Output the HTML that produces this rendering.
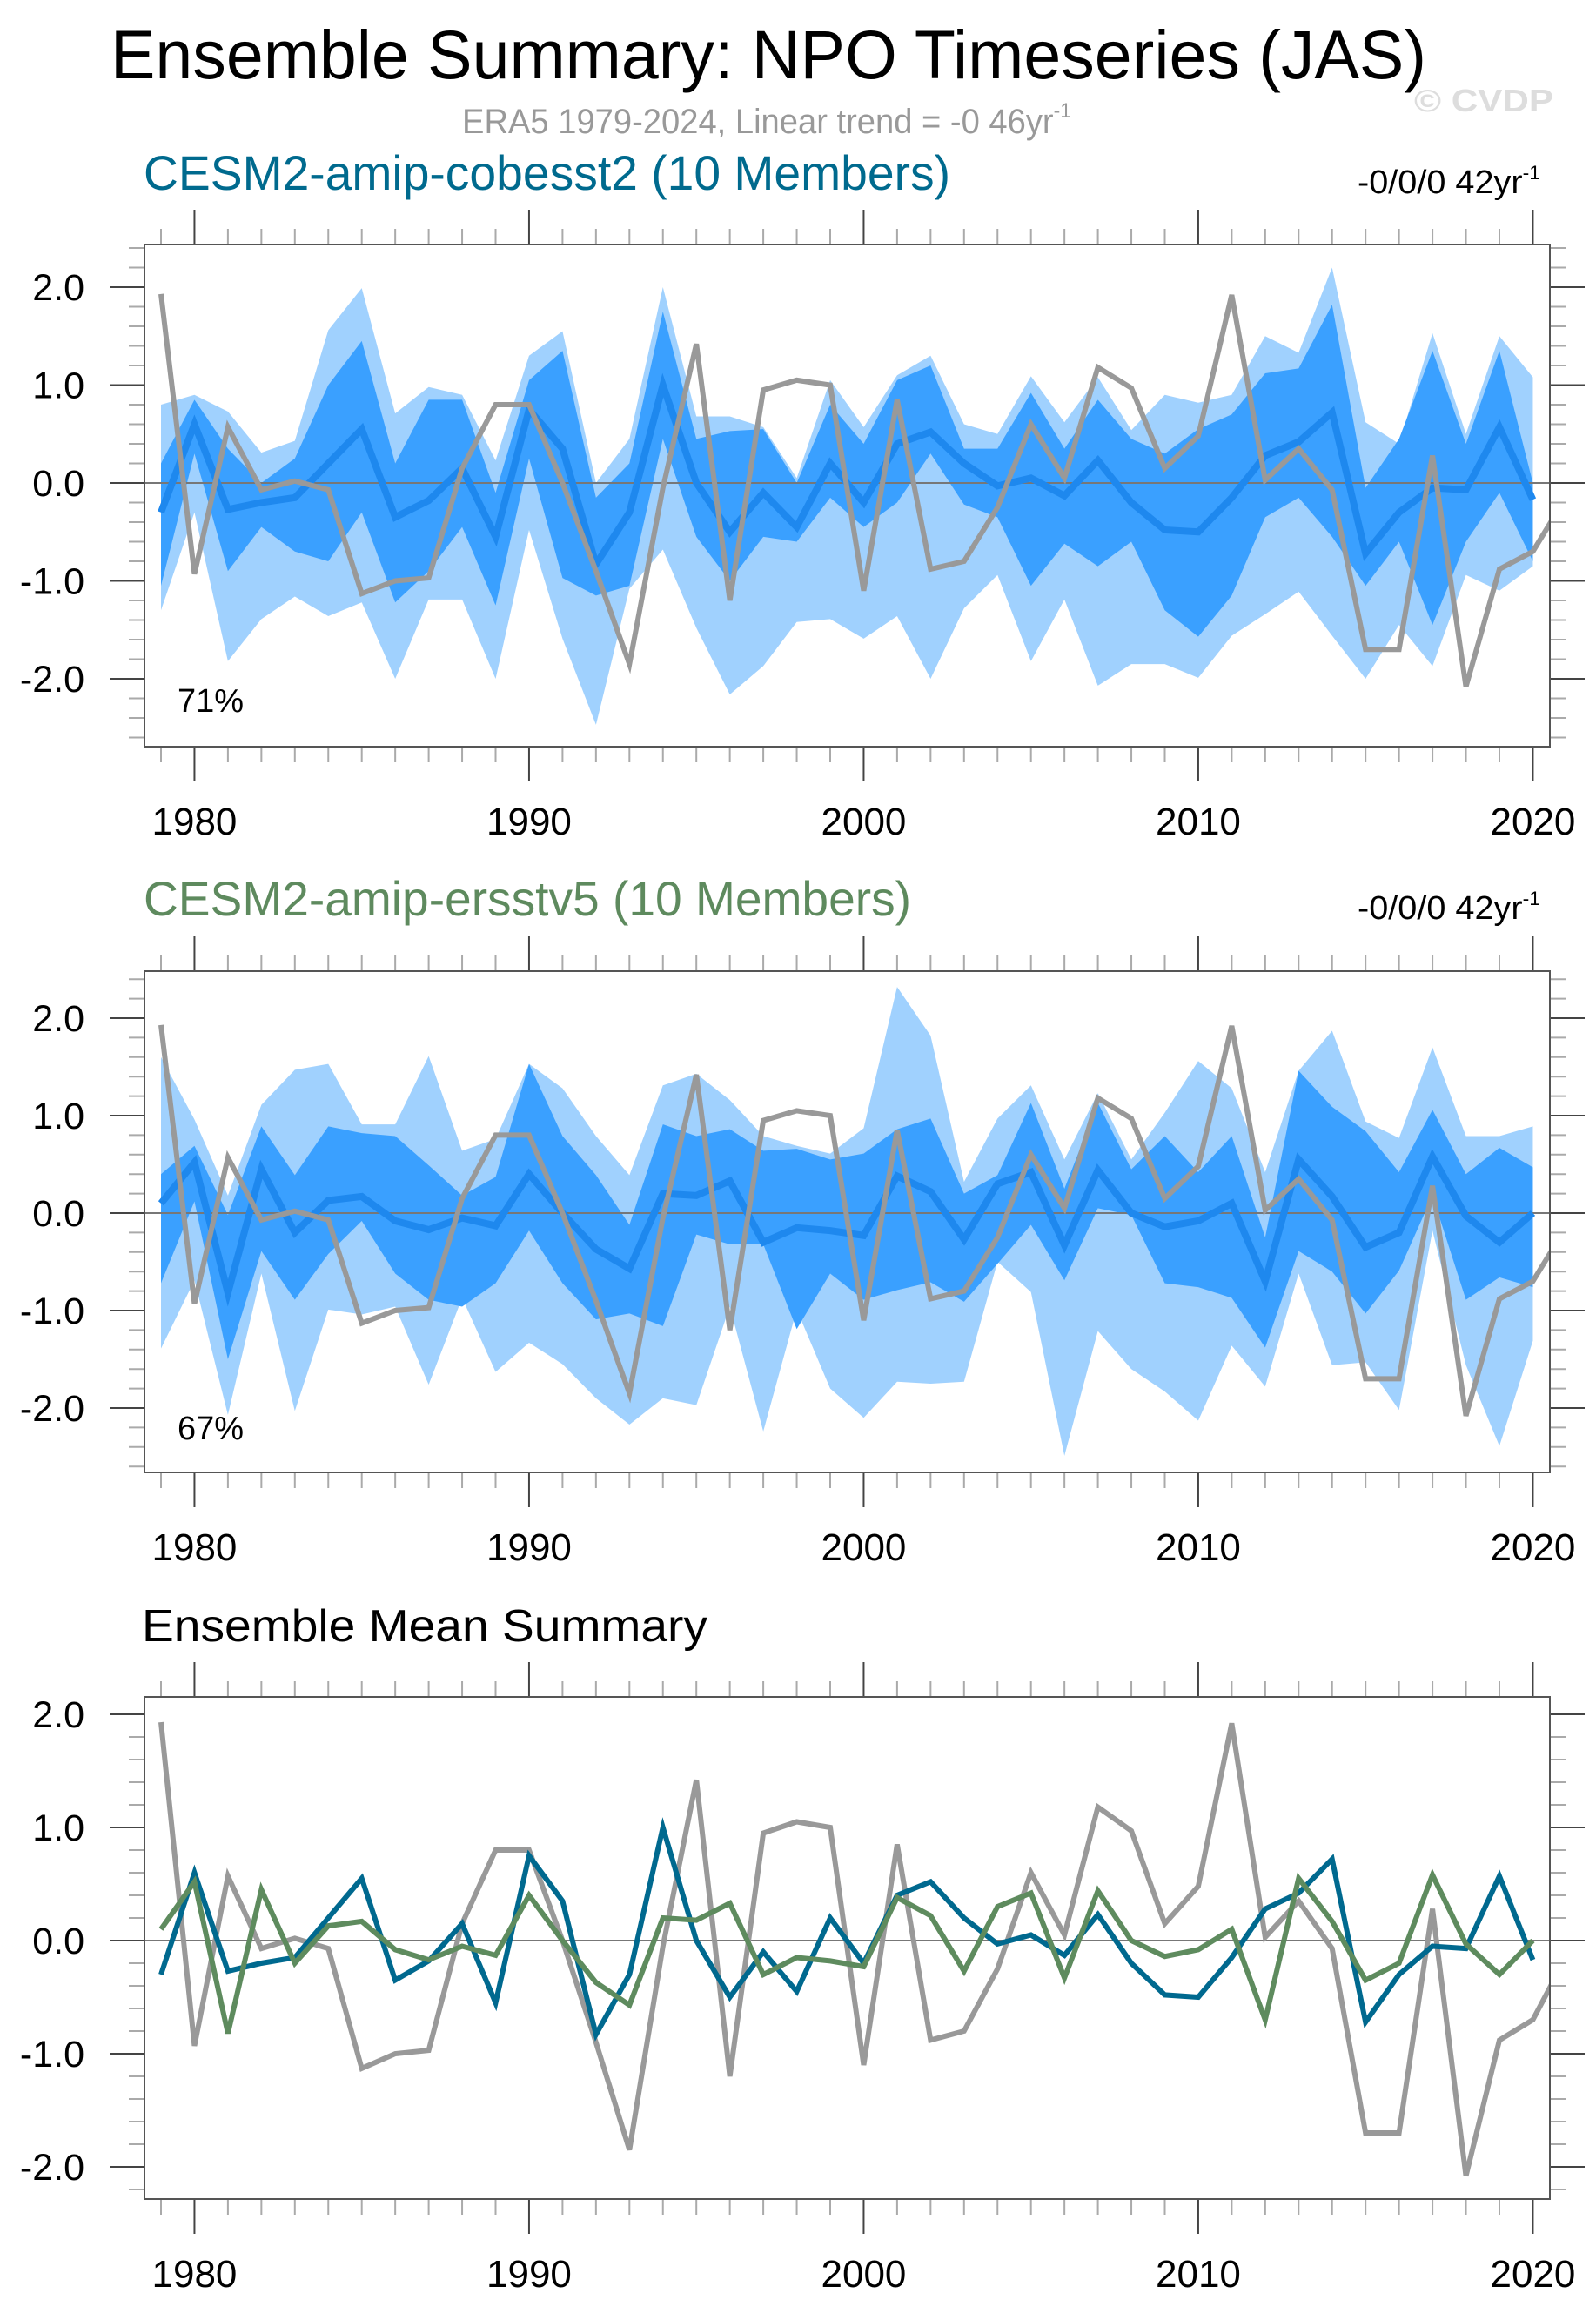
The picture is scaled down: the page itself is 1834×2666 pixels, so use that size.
<!DOCTYPE html>
<html><head><meta charset="utf-8"><style>
html,body{margin:0;padding:0;background:#fff;}
svg{display:block;font-family:"Liberation Sans",sans-serif;}
</style></head><body>
<svg id="chart" width="1834" height="2666" viewBox="0 0 1834 2666" xmlns="http://www.w3.org/2000/svg">
<text x="127" y="90" font-size="79" fill="#000" textLength="1512" lengthAdjust="spacingAndGlyphs">Ensemble Summary: NPO Timeseries (JAS)</text>
<text x="531" y="153" font-size="40" fill="#999" textLength="700" lengthAdjust="spacingAndGlyphs">ERA5 1979-2024, Linear trend = -0 46yr<tspan font-size="24" dy="-18">-1</tspan></text>
<text x="1625" y="128" font-size="36" font-weight="bold" fill="#ddd" textLength="160" lengthAdjust="spacingAndGlyphs">© CVDP</text>
<text x="165" y="218" font-size="56" fill="#006a8e" textLength="927" lengthAdjust="spacingAndGlyphs">CESM2-amip-cobesst2 (10 Members)</text>
<text x="1560" y="222" font-size="38" fill="#000" textLength="210" lengthAdjust="spacingAndGlyphs">-0/0/0 42yr<tspan font-size="22" dy="-16">-1</tspan></text>
<text x="165" y="1052" font-size="56" fill="#5e8a5e" textLength="882" lengthAdjust="spacingAndGlyphs">CESM2-amip-ersstv5 (10 Members)</text>
<text x="1560" y="1056" font-size="38" fill="#000" textLength="210" lengthAdjust="spacingAndGlyphs">-0/0/0 42yr<tspan font-size="22" dy="-16">-1</tspan></text>
<text x="163" y="1886" font-size="52" fill="#000" textLength="650" lengthAdjust="spacingAndGlyphs">Ensemble Mean Summary</text>
</svg>
<script>
const years = [1979,1980,1981,1982,1983,1984,1985,1986,1987,1988,1989,1990,1991,1992,1993,1994,1995,1996,1997,1998,1999,2000,2001,2002,2003,2004,2005,2006,2007,2008,2009,2010,2011,2012,2013,2014,2015,2016,2017,2018,2019,2020];
const era5Years = [1979,1980,1981,1982,1983,1984,1985,1986,1987,1988,1989,1990,1991,1992,1993,1994,1995,1996,1997,1998,1999,2000,2001,2002,2003,2004,2005,2006,2007,2008,2009,2010,2011,2012,2013,2014,2015,2016,2017,2018,2019,2020,2021];
const era5 = [1.93,-0.93,0.57,-0.07,0.02,-0.07,-1.13,-1.0,-0.97,0.15,0.8,0.8,0.0,-0.9,-1.85,-0.05,1.42,-1.2,0.95,1.05,1.0,-1.1,0.85,-0.88,-0.8,-0.25,0.6,0.05,1.18,0.97,0.15,0.48,1.92,0.03,0.35,-0.07,-1.7,-1.7,0.28,-2.08,-0.88,-0.7,-0.14];
const cobMean = [-0.3,0.6,-0.27,-0.2,-0.15,0.2,0.55,-0.35,-0.18,0.15,-0.55,0.75,0.35,-0.83,-0.3,1.0,0.0,-0.5,-0.1,-0.45,0.2,-0.2,0.4,0.52,0.2,-0.03,0.05,-0.13,0.23,-0.2,-0.48,-0.5,-0.15,0.28,0.42,0.72,-0.72,-0.3,-0.05,-0.07,0.57,-0.17];
const cobMax = [0.8,0.9,0.73,0.31,0.43,1.56,1.99,0.71,0.98,0.9,0.23,1.3,1.55,0.0,0.45,2.0,0.68,0.68,0.57,0.05,1.05,0.57,1.1,1.3,0.6,0.5,1.09,0.62,1.08,0.54,0.9,0.82,0.9,1.5,1.33,2.2,0.62,0.4,1.53,0.5,1.5,1.08];
const cobMin = [-1.3,-0.3,-1.82,-1.39,-1.16,-1.36,-1.22,-2.0,-1.19,-1.19,-2.0,-0.48,-1.59,-2.47,-1.08,-0.68,-1.48,-2.16,-1.87,-1.42,-1.39,-1.59,-1.36,-2.0,-1.28,-0.94,-1.82,-1.19,-2.07,-1.85,-1.85,-1.99,-1.56,-1.34,-1.11,-1.56,-2.0,-1.45,-1.87,-0.94,-1.1,-0.85];
const cobHi = [0.2,0.85,0.35,0.0,0.25,1.0,1.45,0.2,0.85,0.85,-0.1,1.05,1.35,-0.15,0.2,1.75,0.45,0.53,0.55,0.0,0.8,0.4,1.05,1.2,0.35,0.35,0.92,0.35,0.85,0.45,0.3,0.55,0.7,1.12,1.17,1.82,-0.05,0.45,1.35,0.4,1.35,0.0];
const cobLo = [-1.05,0.3,-0.9,-0.45,-0.7,-0.8,-0.3,-1.22,-0.9,-0.45,-1.25,0.25,-0.97,-1.15,-1.05,0.45,-0.55,-1.0,-0.55,-0.6,-0.15,-0.45,-0.2,0.3,-0.22,-0.35,-1.05,-0.62,-0.85,-0.6,-1.3,-1.57,-1.15,-0.35,-0.15,-0.55,-1.05,-0.6,-1.45,-0.6,-0.1,-0.8];
const ersMean = [0.1,0.52,-0.82,0.45,-0.2,0.13,0.17,-0.08,-0.17,-0.05,-0.13,0.4,0.0,-0.37,-0.57,0.2,0.18,0.33,-0.3,-0.15,-0.18,-0.23,0.38,0.22,-0.27,0.3,0.42,-0.33,0.44,0.0,-0.14,-0.08,0.1,-0.7,0.55,0.17,-0.35,-0.2,0.58,-0.03,-0.3,0.0];
const ersMax = [1.6,0.96,0.18,1.11,1.47,1.53,0.91,0.91,1.61,0.64,0.76,1.53,1.28,0.79,0.39,1.31,1.43,1.16,0.79,0.69,0.61,0.87,2.32,1.82,0.32,0.97,1.31,0.55,1.23,0.55,1.03,1.56,1.28,0.42,1.46,1.87,0.94,0.77,1.7,0.79,0.79,0.89];
const ersMin = [-1.39,-0.69,-2.07,-0.62,-2.03,-0.99,-1.04,-0.96,-1.76,-0.87,-1.63,-1.33,-1.55,-1.9,-2.17,-1.9,-1.97,-0.96,-2.24,-0.99,-1.8,-2.1,-1.73,-1.75,-1.73,-0.5,-0.81,-2.49,-1.21,-1.6,-1.83,-2.13,-1.36,-1.78,-0.62,-1.56,-1.53,-2.02,-0.18,-1.56,-2.39,-1.31];
const ersHi = [0.4,0.69,-0.02,0.89,0.39,0.89,0.82,0.79,0.49,0.18,0.37,1.53,0.79,0.39,-0.12,0.91,0.79,0.86,0.64,0.66,0.55,0.61,0.86,0.97,0.2,0.39,1.13,0.25,1.13,0.45,0.79,0.42,0.79,-0.25,1.46,1.09,0.84,0.42,1.06,0.4,0.67,0.47];
const ersLo = [-0.72,0.12,-1.5,-0.39,-0.89,-0.42,-0.08,-0.62,-0.89,-0.96,-0.72,-0.18,-0.72,-1.09,-1.03,-1.16,-0.22,-0.32,-0.32,-1.19,-0.62,-0.89,-0.79,-0.71,-0.91,-0.52,-0.12,-0.69,0.05,-0.02,-0.72,-0.76,-0.87,-1.38,-0.39,-0.6,-1.03,-0.59,0.18,-0.89,-0.66,-0.76];
const xTickLabels = ["1980","1990","2000","2010","2020"];
const yTickLabels = ["2.0","1.0","0.0","-1.0","-2.0"];
const pctLabels = ["71%","67%"];

const NS = "http://www.w3.org/2000/svg";
const svg = document.getElementById('chart');
function mk(tag, attrs, parent){
  const e = document.createElementNS(NS, tag);
  for (const k in attrs) e.setAttribute(k, attrs[k]);
  (parent||svg).appendChild(e);
  return e;
}
const X0 = 166, X1 = 1781;
function xScale(yr){ return 185 + (yr - 1979) * 38.45; }

function panel(idx, top, bottom, zeroY, unit){
  const g = mk('g', {});
  
  
  const ys = v => zeroY - v * unit;
  const clipId = 'clip' + idx;
  const cp = mk('clipPath', {id: clipId}, g);
  mk('rect', {x: X0, y: top, width: X1 - X0, height: bottom - top}, cp);
  const plot = mk('g', {'clip-path': 'url(#' + clipId + ')'}, g);
  const tk = mk('g', {'stroke-width': 2}, g);
  
  
  for (let yr = 1979; yr <= 2020; yr++){
    const x = xScale(yr), major = yr % 10 === 0;
    const L = major ? 40 : 18;
    mk('line', {x1: x, x2: x, y1: top, y2: top - L, stroke: major ? '#444' : '#aaa'}, tk);
    mk('line', {x1: x, x2: x, y1: bottom, y2: bottom + L, stroke: major ? '#444' : '#aaa'}, tk);
  }
  for (let v = -3; v <= 3.001; v += 0.2){
    const y = ys(v);
    if (y < top - 0.5 || y > bottom + 0.5) continue;
    const major = Math.abs(Math.round(v) - v) < 0.01;
    const L = major ? 40 : 18;
    mk('line', {x1: X0, x2: X0 - L, y1: y, y2: y, stroke: major ? '#444' : '#aaa'}, tk);
    mk('line', {x1: X1, x2: X1 + L, y1: y, y2: y, stroke: major ? '#444' : '#aaa'}, tk);
  }
  yTickLabels.forEach(t => {
    const v = parseFloat(t);
    const tx = mk('text', {x: 97, y: ys(v) + 15, 'font-size': 43, 'text-anchor': 'end', fill: '#000'}, g);
    
    
    tx.textContent = t;
  });
  xTickLabels.forEach(t => {
    const tx = mk('text', {x: xScale(parseInt(t)), y: bottom + 101, 'font-size': 44, 'text-anchor': 'middle', fill: '#000'}, g);
    
    
    tx.textContent = t;
  });
  return {plot, ys, g};
}
function band(plot, ys, hi, lo, color, name){
  let d = '';
  years.forEach((yr,i) => { d += (i ? 'L' : 'M') + xScale(yr) + ',' + ys(hi[i]); });
  for (let i = years.length - 1; i >= 0; i--) d += 'L' + xScale(years[i]) + ',' + ys(lo[i]);
  const p = mk('path', {d: d + 'Z', fill: color}, plot);
  
  
}
function line(plot, ys, xsArr, vals, color, w, name){
  const pts = xsArr.map((yr,i) => xScale(yr) + ',' + ys(vals[i])).join(' ');
  const p = mk('polyline', {points: pts, fill: 'none', stroke: color, 'stroke-width': w, 'stroke-linejoin': 'miter'}, plot);
  
  
}
function zero(plot, ys){
  mk('line', {x1: X0, x2: X1, y1: ys(0), y2: ys(0), stroke: '#777', 'stroke-width': 2}, plot);
}
function frame(g, top, bottom){
  const r = mk('rect', {x: X0, y: top, width: X1 - X0, height: bottom - top, fill: 'none', stroke: '#555', 'stroke-width': 2}, g);
  
  
}

// Panel 1
let P = panel(1, 281, 858, 555, 112.5);
band(P.plot, P.ys, cobMax, cobMin, '#a0d1fe', 'range-band-cobesst2');
band(P.plot, P.ys, cobHi, cobLo, '#3aa0ff', 'iqr-band-cobesst2');
zero(P.plot, P.ys);
line(P.plot, P.ys, years, cobMean, '#1e88ee', 8, 'mean-line-cobesst2');
line(P.plot, P.ys, era5Years, era5, '#999', 6, 'era5-line');
frame(P.g, 281, 858);
let t = mk('text', {x: 204, y: 818, 'font-size': 38, fill: '#000'});


t.textContent = pctLabels[0];

// Panel 2
P = panel(2, 1116, 1692, 1394, 112);
band(P.plot, P.ys, ersMax, ersMin, '#a0d1fe', 'range-band-ersstv5');
band(P.plot, P.ys, ersHi, ersLo, '#3aa0ff', 'iqr-band-ersstv5');
zero(P.plot, P.ys);
line(P.plot, P.ys, years, ersMean, '#1e88ee', 8, 'mean-line-ersstv5');
line(P.plot, P.ys, era5Years, era5, '#999', 6, 'era5-line');
frame(P.g, 1116, 1692);
t = mk('text', {x: 204, y: 1654, 'font-size': 38, fill: '#000'});


t.textContent = pctLabels[1];

// Panel 3
P = panel(3, 1950, 2527, 2230, 130);
zero(P.plot, P.ys);
line(P.plot, P.ys, era5Years, era5, '#999', 6, 'era5-line');
line(P.plot, P.ys, years, cobMean, '#00698f', 6, 'cobesst2-mean-line');
line(P.plot, P.ys, years, ersMean, '#5e8b5e', 6, 'ersstv5-mean-line');
frame(P.g, 1950, 2527);
</script>
</body></html>
